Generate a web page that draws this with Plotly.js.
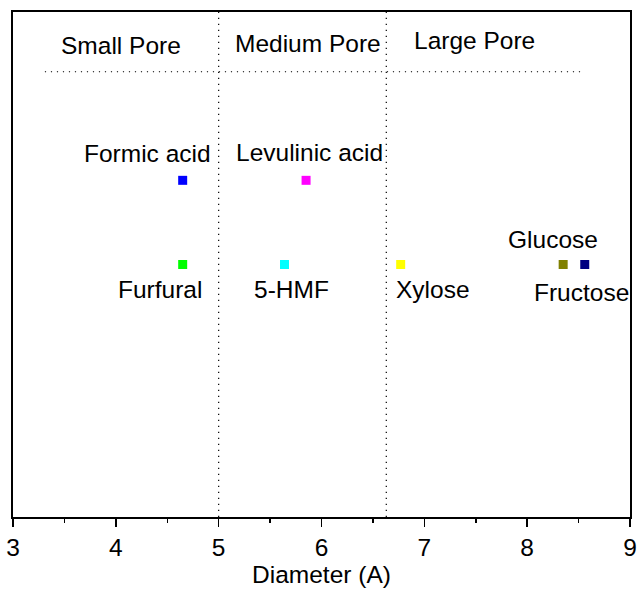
<!DOCTYPE html>
<html><head><meta charset="utf-8">
<script src="https://cdn.plot.ly/plotly-3.0.1.min.js"></script>
<style>html,body{margin:0;padding:0;background:#fff}</style>
</head><body><div id="chart" style="width:638px;height:589px"></div>
<script>
const names = ["Formic acid","Levulinic acid","Furfural","5-HMF","Xylose","Glucose","Fructose"];
const diameters = [4.65, 5.85, 4.65, 5.64, 6.77, 8.35, 8.56];
const levels = [4, 4, 3, 3, 3, 3, 3];
const colors = ["#0000ff","#ff00ff","#00ff00","#00ffff","#ffff00","#808000","#000080"];
const labelX = [4.31, 5.88, 4.43, 5.71, 7.08, 8.25, 8.53];
const labelY = [4.32, 4.33, 2.70, 2.70, 2.70, 3.30, 2.67];
const regions = ["Small Pore","Medium Pore","Large Pore"];
const regionX = [4.05, 5.87, 7.49];
const regionY = [5.60, 5.63, 5.66];
const boundaries = [5.0, 6.63];
const lineSpan = [3.31, 8.54];
const lineLevel = 5.29;

const trace = {
  x: diameters, y: levels, type: 'scatter', mode: 'markers',
  marker: {symbol: 'square', size: 9, color: colors},
  hoverinfo: 'skip', showlegend: false
};
const font = {family: 'Liberation Sans, Arial, sans-serif', size: 24.5, color: '#000'};
const annotations = names.map((n, i) => ({
  x: labelX[i], y: labelY[i], text: n, showarrow: false, font: font,
  xanchor: 'center', yanchor: 'middle'
})).concat(regions.map((n, i) => ({
  x: regionX[i], y: regionY[i], text: n, showarrow: false, font: font,
  xanchor: 'center', yanchor: 'middle'
})));
const dotLine = {color: '#000', width: 1.2, dash: '1.2px,4.8px'};
const shapes = boundaries.map(b => ({
  type: 'line', x0: b, x1: b, y0: 0, y1: 6, xref: 'x', yref: 'y', line: dotLine
})).concat([{
  type: 'line', x0: lineSpan[0], x1: lineSpan[1], y0: lineLevel, y1: lineLevel,
  xref: 'x', yref: 'y', line: dotLine
}]);

const layout = {
  width: 638, height: 589,
  margin: {l: 13, r: 8, t: 12, b: 72},
  paper_bgcolor: '#fff', plot_bgcolor: '#fff',
  font: font,
  xaxis: {
    range: [3, 9], dtick: 1, tick0: 3, ticks: 'outside', ticklen: 8, tickwidth: 1.5,
    tickcolor: '#000', showgrid: false, zeroline: false,
    showline: true, linecolor: '#000', linewidth: 2, mirror: true,
    tickfont: font,
    minor: {dtick: 0.5, ticks: 'outside', ticklen: 4, tickwidth: 1.5, tickcolor: '#000', showgrid: false},
    title: {text: 'Diameter (A)', font: font, standoff: 2}
  },
  yaxis: {
    range: [0, 6], showticklabels: false, ticks: '', showgrid: false, zeroline: false,
    showline: true, linecolor: '#000', linewidth: 2, mirror: true
  },
  annotations: annotations,
  shapes: shapes
};
Plotly.newPlot('chart', [trace], layout, {displayModeBar: false, staticPlot: true});
</script></body></html>
